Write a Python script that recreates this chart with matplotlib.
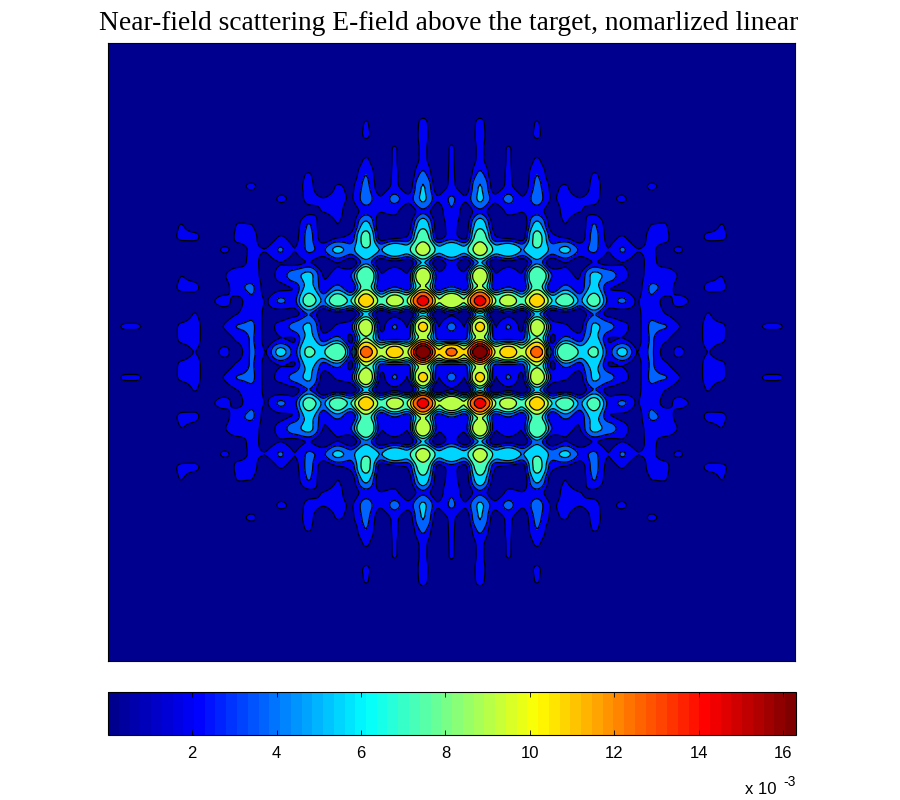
import numpy as np
import matplotlib
matplotlib.use("Agg")
import matplotlib.pyplot as plt
from matplotlib.colors import LinearSegmentedColormap, Normalize
from matplotlib.cm import ScalarMappable

title_text = "Near-field scattering E-field above the target, nomarlized linear"
colorbar_ticks = [2, 4, 6, 8, 10, 12, 14, 16]
value_min, value_max = 0.01, 16.3
levels = [2.05, 3.6, 5.4, 7.2, 9.0, 10.8, 12.6, 14.4, 15.6]

quadrant = [
 [12.8,8.3,16.5,8,11.5,7.3,13,2.2,9,5.5,7.3,2.5,5.8,1.9,3.8,1.2,2.6,.7,2.1,1,.3],
 [2.2,2.6,7,2.6,2.4,2.6,7,1.5,3.5,2.5,5.5,1.8,2,1.4,3.7,2.2,1.3,.6,2.8,2.4,.3],
 [4,1.8,11,1.8,3.8,1.4,10,2.6,2.2,1.3,5.5,4,2.5,1.4,3.8,3.7,2.1,.8,2.7,2.4,.4,.1,2.5,2.5,.3],
 [1.8,.8,3.6,.8,1.6,.8,3.6,1,1.2,.9,3,1.5,1.2,1.7,3.2,2,1.3,.8,2.2,.9,.3],
 [10.6,6.5,14.8,6.8,9.6,5.6,11.5,5,8,3.7,7.6,2.6,3.9,1.9,3.3,1.4,2.7,1.8,.7,.4],
 [3,2.2,7,2.2,3,2,6.5,1.8,3.6,2.2,5.5,2,1.7,1.2,3.8,3.2,1.2,.6,2.5,2.5,.4],
 [2.8,2.2,10.2,2,3.3,2,9,3,2.3,1.9,5.6,4.4,2.5,1.3,2.8,3.6,1.9,.6,1.6,2.1,.3],
 [2.5,1,3.6,1,1.5,1,3.6,1,2,1,2,1.5,2,1.5,2.5,1.2,.8,.3],
 [6.8,4.8,9.4,5.2,6.8,4.3,7,3.8,5.6,3,3.8,2,3.8,2.1,2.2,1.6,2.4,.6,.3],
 [2.4,1.4,7.6,2,1.5,1.1,7.4,2.2,1.8,1,4,1.5,2.2,1,2.5,2.4,.7,.5,2.6,2.6,.3],
 [2.6,1.2,6,1.3,1.3,.8,5.4,1.3,2.1,.9,3.7,1.3,.7,.6,2.1,2.2,.5,.3,.9,2.2,.2],
 [3.5,1.1,2.8,1,2.3,2.1,2.6,1.3,2.4,2.1,1.7,.8,.6,.3,.5,.4],
 [3.8,2.1,5.5,2.3,4,2.1,4.2,1.9,2.4,2.1,2.4,1.4,2.6,.3,.8,.5],
 [2.3,1,5.4,1.1,2.3,1,3.9,1.8,2.2,1,2.4,1.6,.4,.3,2.6,1.4],
 [2.3,.7,3.7,.9,2.3,.7,3.6,1,.8,.8,2.2,1.5,.3,.2],
 [2.3,.5,2.5,.5,2.3,.4,2.4,.3,.2],
 [2.3,.4,2.5,.4,2.3,.3,1,.1],
 [1.4,.3,2.8,.3,.6,.3,2.5,.1],
 [.3,.2,2.7,.1,.2,.3,2.3,.1],
 [.1,.1,.5,.1,.1,.1,.4,.1],
]

n_side = 26
q = np.zeros((n_side, n_side))
for i, row in enumerate(quadrant):
    q[i, :len(row)] = row
top = np.vstack([q[:0:-1], q])
field = np.hstack([top[:, :0:-1], top])
lat = np.arange(-(n_side - 1), n_side, dtype=float)

# Rendering only: resample the read grid for smooth contours. Each node keeps its
# value; the warp and the dilation of the high bands give the reference's flat-topped lobes.
fine_step = 8
fine = np.arange(lat[0], lat[-1] + 1e-9, 1 / fine_step)
base = np.floor(fine)
t = fine - base
warped = base + t * t * (3 - 2 * t)
z_fine = np.array([np.interp(warped, lat, r) for r in field])
z_fine = np.array([np.interp(warped, lat, c) for c in z_fine.T]).T

radius = 3
yy, xx = np.mgrid[-radius:radius + 1, -radius:radius + 1]
disk = (xx ** 2 + yy ** 2) <= radius ** 2 + 1
pad = np.pad(z_fine, radius, mode="edge")
win = np.lib.stride_tricks.sliding_window_view(pad, disk.shape)
dilated = (win * disk).max(axis=(2, 3))
weight = np.clip((z_fine - 2.2) / 2.5, 0, 1)
z_fine = z_fine + weight * (dilated - z_fine)

kernel = np.array([1, 2, 3, 2, 1], dtype=float)
kernel = kernel / kernel.sum()
z_fine = np.apply_along_axis(lambda v: np.convolve(v, kernel, mode="same"), 0, z_fine)
z_fine = np.apply_along_axis(lambda v: np.convolve(v, kernel, mode="same"), 1, z_fine)

jet64 = LinearSegmentedColormap.from_list(
    "matlab_jet",
    [(0, (0, 0, .5625)), (.125, (0, 0, 1)), (.375, (0, 1, 1)),
     (.625, (1, 1, 0)), (.875, (1, 0, 0)), (1, (.5, 0, 0))], N=64)

fig = plt.figure(figsize=(9, 8), dpi=100)
W, H = 900.0, 800.0
ax = fig.add_axes([108/W, 1-661/H, 687/W, 618/H])
ax.set_facecolor(jet64(0.0))

draw_levels = levels + [max(z_fine.max(), 17) + 1]
fill_colors = [jet64(1.8 / value_max)] + [jet64(l / value_max) for l in levels[1:-1]] + [jet64(.985)]
ax.contourf(fine, fine, z_fine, levels=draw_levels, colors=fill_colors)
ax.contour(fine, fine, z_fine, levels=levels, colors="k", linewidths=0.9)
ax.set_xlim(-24.1, 24.1)
ax.set_ylim(-24.2, 24.2)
ax.set_xticks([])
ax.set_yticks([])
for s in ax.spines.values():
    s.set_linewidth(0.8)

fig.text(449/W, 1-30/H, title_text, family="Liberation Serif", fontsize=19.8,
         ha="center", va="baseline", color="k")

cax = fig.add_axes([108/W, 1-735/H, 688/W, 43/H])
sm = ScalarMappable(norm=Normalize(value_min, value_max), cmap=jet64)
cb = fig.colorbar(sm, cax=cax, orientation="horizontal")
cb.set_ticks(colorbar_ticks)
cb.set_ticklabels([str(t) for t in colorbar_ticks])
cb.outline.set_linewidth(0.8)
cax.tick_params(axis="x", which="both", direction="in", top=True, bottom=True,
                length=3.5, width=0.6, labelsize=12, pad=8)
for lab in cax.get_xticklabels():
    lab.set_family("Liberation Sans")
cb.minorticks_off()

fig.text(745/W, 1-794/H, "x 10", family="Liberation Sans", fontsize=12, ha="left", va="baseline")
fig.text(783/W, 1-786/H, "-3", family="Liberation Sans", fontsize=10, ha="left", va="baseline")

fig.savefig("out.png", dpi=100)
